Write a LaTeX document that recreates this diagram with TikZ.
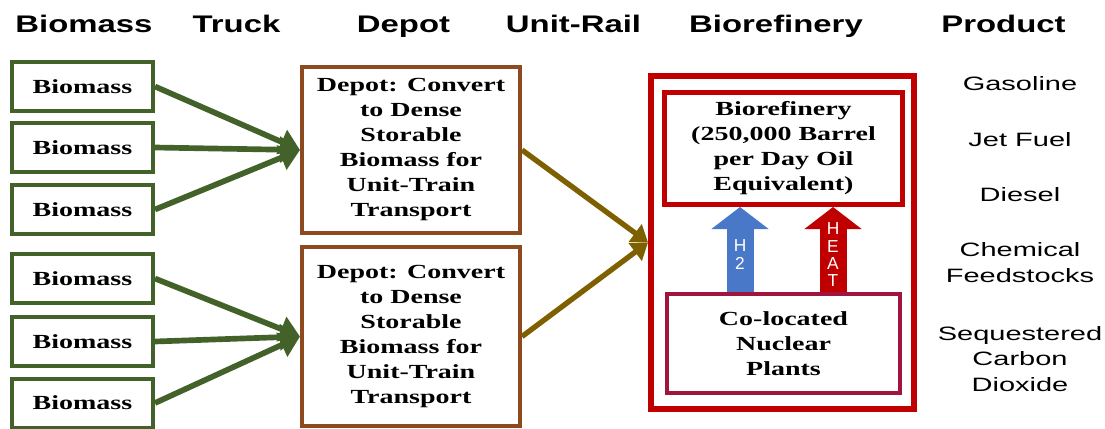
\documentclass[tikz,border=0pt]{standalone}
\usepackage{fontspec}
\setmainfont{Liberation Serif}
\setsansfont{Liberation Sans}
\usetikzlibrary{arrows.meta}

\definecolor{leaf}{HTML}{42622A}
\definecolor{bark}{HTML}{8C4A1E}
\definecolor{ochre}{HTML}{7F6000}
\definecolor{refred}{HTML}{C00000}
\definecolor{nucred}{HTML}{A0153E}
\definecolor{hblue}{HTML}{4A78C8}

% wide lettering
\newcommand{\wsx}[1]{\scalebox{1.4}[1]{#1}}
\newcommand{\whx}[1]{\scalebox{1.37}[1]{#1}}
\newcommand{\wpx}[1]{\scalebox{1.5}[1]{#1}}

\tikzset{
  boxfont/.style={font=\fontsize{15}{18.75}\selectfont\bfseries},
  headfont/.style={font=\sffamily\bfseries\fontsize{18}{21.6}\selectfont},
  prodfont/.style={font=\sffamily\fontsize{14.5}{19}\selectfont},
  srcbox/.style={draw=leaf, line width=3pt, boxfont, inner sep=0pt,
    minimum width=105.75pt, minimum height=36.75pt},
  depotbox/.style={draw=bark, line width=3pt, boxfont, align=center, inner sep=0pt,
    minimum width=163.5pt},
  truckarrow/.style={draw=leaf, line width=4.25pt, -{Triangle[length=15pt,width=19pt]}},
  railarrow/.style={draw=ochre, line width=4pt, -{Triangle[length=12pt,width=16pt]}},
  blockarrow/.style={line width=20.25pt, -{Triangle[length=16.5pt,width=42pt]}},
  arrowtxt/.style={text=white, align=center, inner sep=0pt}
}

\begin{document}
\begin{tikzpicture}[x=0.75pt, y=-0.75pt]
\useasboundingbox (0,0) rectangle (1105,428);

% column headings
\node[headfont, anchor=base] (hbio) at (84,33) {\whx{Biomass}};
\node[headfont, anchor=base] (htruck) at (236.5,33) {\whx{Truck}};
\node[headfont, anchor=base] (hdepot) at (403.5,33) {\whx{Depot}};
\node[headfont, anchor=base] (hrail) at (573.5,33) {\whx{Unit-Rail}};
\node[headfont, anchor=base] (hrefi) at (776,33) {\whx{Biorefinery}};
\node[headfont, anchor=base] (hprod) at (1003.5,33) {\whx{Product}};

% biomass sources
\node[srcbox] (b1) at (82.5,86.5) {\wsx{Biomass}};
\node[srcbox] (b2) at (82.5,147.5) {\wsx{Biomass}};
\node[srcbox] (b3) at (82.5,209.5) {\wsx{Biomass}};
\node[srcbox] (b4) at (82.5,278.5) {\wsx{Biomass}};
\node[srcbox] (b5) at (82.5,341.5) {\wsx{Biomass}};
\node[srcbox] (b6) at (82.5,403) {\wsx{Biomass}};

% depots
\node[depotbox, minimum height=124.5pt] (d1) at (411,150)
  {\wsx{Depot: Convert}\\\wsx{to Dense}\\\wsx{Storable}\\\wsx{Biomass for}\\\wsx{Unit-Train}\\\wsx{Transport}};
\node[depotbox, minimum height=134.25pt] (d2) at (411,336.5)
  {\wsx{Depot: Convert}\\\wsx{to Dense}\\\wsx{Storable}\\\wsx{Biomass for}\\\wsx{Unit-Train}\\\wsx{Transport}};

% biorefinery site
\node[draw=refred, line width=4.5pt, minimum width=197.25pt, minimum height=249.75pt, inner sep=0pt]
  (site) at (782.5,242.5) {};
\node[draw=refred, line width=3.75pt, boxfont, align=center, inner sep=0pt,
  minimum width=178.5pt, minimum height=84pt] (refi) at (783.5,148.5)
  {\wsx{Biorefinery}\\\wsx{(250,000 Barrel}\\\wsx{per Day Oil}\\\wsx{Equivalent)}};
\node[draw=nucred, line width=3pt, boxfont, align=center, inner sep=0pt,
  minimum width=174.75pt, minimum height=74.25pt] (nuc) at (783.5,343.5)
  {\wsx{Co-located}\\\wsx{Nuclear}\\\wsx{Plants}};

% products
\node[prodfont] (p1) at (1020,84) {\wpx{Gasoline}};
\node[prodfont] (p2) at (1020,140) {\wpx{Jet Fuel}};
\node[prodfont] (p3) at (1020,195) {\wpx{Diesel}};
\node[prodfont, align=center] (p4) at (1020,262.5) {\wpx{Chemical}\\\wpx{Feedstocks}};
\node[prodfont, align=center] (p5) at (1020,359) {\wpx{Sequestered}\\\wpx{Carbon}\\\wpx{Dioxide}};

% truck haul to depots
\foreach \b in {b1,b2,b3} \draw[truckarrow] (\b.east) -- (d1.west);
\foreach \b in {b4,b5,b6} \draw[truckarrow] (\b.east) -- (d2.west);

% rail haul to the biorefinery
\draw[railarrow] (d1.east) -- (site.west);
\draw[railarrow] (d2.east) -- (site.west);

% hydrogen and heat from the nuclear plants
\coordinate (h2x) at (740,0);
\coordinate (heatx) at (833,0);
\draw[blockarrow, draw=hblue, fill=hblue] (h2x |- nuc.north) -- (h2x |- refi.south);
\draw[blockarrow, draw=refred, fill=refred] (heatx |- nuc.north) -- (heatx |- refi.south);
\node[arrowtxt, font=\sffamily\fontsize{13}{13.5}\selectfont] (h2t) at (740,255) {H\\2};
\node[arrowtxt, font=\sffamily\fontsize{13}{13}\selectfont] (heatt) at (833,255) {H\\E\\A\\T};
\end{tikzpicture}
\end{document}
